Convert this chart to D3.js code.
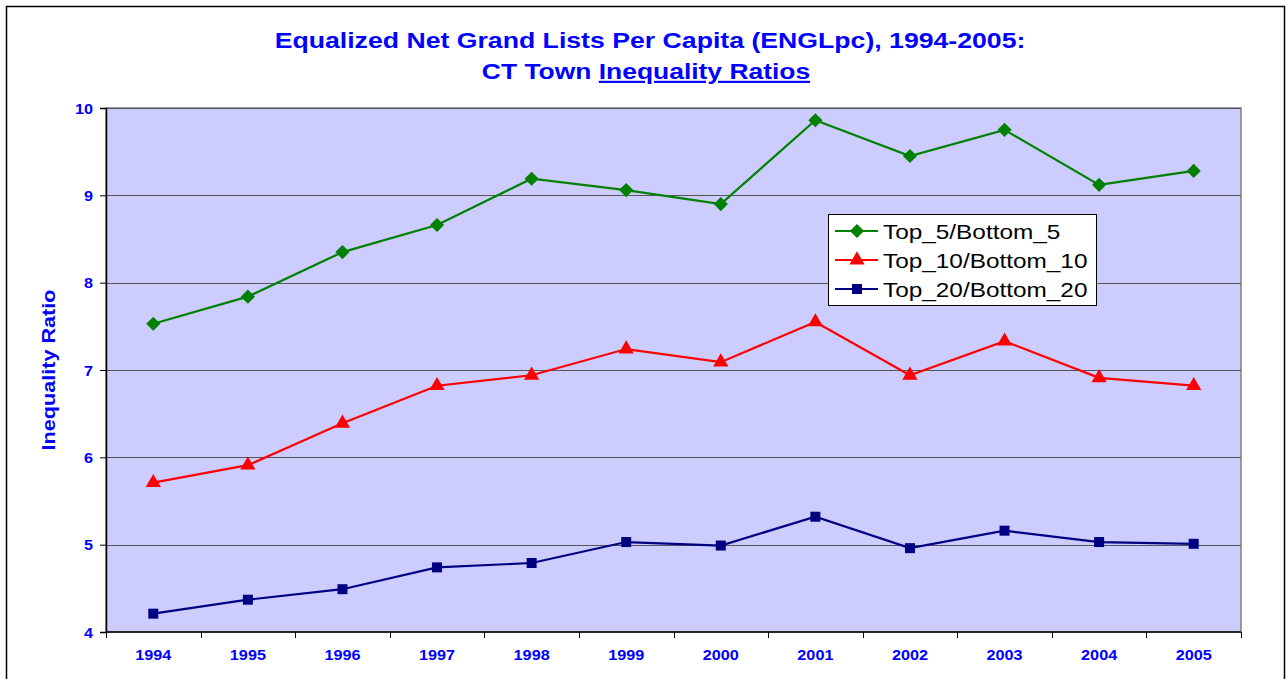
<!DOCTYPE html>
<html>
<head>
<meta charset="utf-8">
<script src="https://cdn.jsdelivr.net/npm/d3@7/dist/d3.min.js"></script>
<style>
  body { margin: 0; background: #fff; }
  svg { display: block; font-family: Arial, "Liberation Sans", sans-serif; }
</style>
</head>
<body>
<div id="chart"></div>
<script>
// Chart data
const years = ["1994", "1995", "1996", "1997", "1998", "1999", "2000", "2001", "2002", "2003", "2004", "2005"];
const top5 = [7.53, 7.84, 8.35, 8.66, 9.19, 9.06, 8.90, 9.86, 9.45, 9.75, 9.12, 9.28];
const top10 = [5.71, 5.91, 6.39, 6.82, 6.94, 7.24, 7.09, 7.55, 6.94, 7.33, 6.91, 6.82];
const top20 = [4.21, 4.37, 4.49, 4.74, 4.79, 5.03, 4.99, 5.32, 4.96, 5.16, 5.03, 5.01];
const yTicks = [4, 5, 6, 7, 8, 9, 10];

// square turned 45 degrees, like the Excel diamond
const diamond = {
    draw(ctx, size) {
        const r = Math.sqrt(size / 2);
        ctx.moveTo(0, -r); ctx.lineTo(r, 0); ctx.lineTo(0, r); ctx.lineTo(-r, 0); ctx.closePath();
    }
};

const series = [
    { name: "Top_5/Bottom_5", values: top5, color: "#008000", symbol: diamond, size: 100 },
    { name: "Top_10/Bottom_10", values: top10, color: "#FF0000", symbol: d3.symbolTriangle, size: 100 },
    { name: "Top_20/Bottom_20", values: top20, color: "#000080", symbol: d3.symbolSquare, size: 100 }
];

const width = 1287, height = 679;
const margin = { top: 108, left: 106, right: 46, bottom: 47 };
const innerW = width - margin.left - margin.right;
const innerH = height - margin.top - margin.bottom;

const svg = d3.select("#chart").append("svg")
    .attr("width", width)
    .attr("height", height);

// Outer chart border
svg.append("rect")
    .attr("x", 6.5).attr("y", 6.5)
    .attr("width", 1278).attr("height", 700)
    .attr("fill", "none")
    .attr("stroke", "#000")
    .attr("stroke-width", 1.5);

// Title (the original is stretched sideways)
svg.append("text")
    .attr("transform", "translate(650,48) scale(1.24,1)")
    .attr("text-anchor", "middle")
    .attr("fill", "#0000FF")
    .style("font-size", "21.5px")
    .style("font-weight", "bold")
    .text("Equalized Net Grand Lists Per Capita (ENGLpc), 1994-2005:");
const t2 = svg.append("text")
    .attr("transform", "translate(646,79) scale(1.23,1)")
    .attr("text-anchor", "middle")
    .attr("fill", "#0000FF")
    .style("font-size", "21.5px")
    .style("font-weight", "bold");
t2.append("tspan").text("CT Town ");
t2.append("tspan").style("text-decoration", "underline").text("Inequality Ratios");

const g = svg.append("g")
    .attr("transform", "translate(" + margin.left + "," + margin.top + ")");

const x = d3.scaleBand().domain(years).range([0, innerW]);
const y = d3.scaleLinear().domain([4, 10]).range([innerH, 0]);

// Plot background
g.append("rect")
    .attr("width", innerW).attr("height", innerH)
    .attr("fill", "#CCCCFF")
    .attr("stroke", "#808080")
    .attr("stroke-width", 1.5);

// Gridlines
g.append("g").selectAll("line")
    .data(yTicks.slice(1))
    .join("line")
    .attr("x1", 0).attr("x2", innerW)
    .attr("y1", d => Math.round(y(d)) + 0.5)
    .attr("y2", d => Math.round(y(d)) + 0.5)
    .attr("stroke", "#555")
    .attr("stroke-width", 1);

// Y axis
const yAxis = g.append("g")
    .call(d3.axisLeft(y).tickValues(yTicks).tickSize(6).tickPadding(0).tickFormat(() => ""));
yAxis.select(".domain").attr("stroke", "#000").attr("stroke-width", 1.5);
yAxis.selectAll(".tick line").attr("stroke", "#000");
g.append("g").selectAll("text")
    .data(yTicks)
    .join("text")
    .attr("transform", d => "translate(-13," + (y(d) + 5.5) + ") scale(1.08,1)")
    .attr("text-anchor", "end")
    .attr("fill", "#0000FF")
    .style("font-size", "15px")
    .style("font-weight", "bold")
    .text(d => d);

// X axis with ticks at band edges
const xAxisG = g.append("g").attr("transform", "translate(0," + innerH + ")");
xAxisG.append("line")
    .attr("x1", 0).attr("x2", innerW)
    .attr("stroke", "#000").attr("stroke-width", 1.5);
xAxisG.selectAll(".edge")
    .data(years.concat(["end"]))
    .join("line")
    .attr("class", "edge")
    .attr("x1", (d, i) => Math.round(i * x.step()) + 0.5)
    .attr("x2", (d, i) => Math.round(i * x.step()) + 0.5)
    .attr("y1", 0).attr("y2", 6)
    .attr("stroke", "#000");
xAxisG.selectAll("text")
    .data(years)
    .join("text")
    .attr("transform", d => "translate(" + (x(d) + x.bandwidth() / 2) + ",28) scale(1.08,1)")
    .attr("text-anchor", "middle")
    .attr("fill", "#0000FF")
    .style("font-size", "15px")
    .style("font-weight", "bold")
    .text(d => d);

// Y axis title
svg.append("text")
    .attr("transform", "translate(55," + (margin.top + innerH / 2) + ") rotate(-90) scale(1.2,1)")
    .attr("text-anchor", "middle")
    .attr("fill", "#0000FF")
    .style("font-size", "18px")
    .style("font-weight", "bold")
    .text("Inequality Ratio");

// Lines and markers
const line = d3.line()
    .x((d, i) => x(years[i]) + x.bandwidth() / 2)
    .y(d => y(d));

series.forEach(s => {
    g.append("path")
        .datum(s.values)
        .attr("fill", "none")
        .attr("stroke", s.color)
        .attr("stroke-width", 2.2)
        .attr("d", line);
    g.append("g").selectAll("path")
        .data(s.values)
        .join("path")
        .attr("transform", (d, i) => "translate(" + (x(years[i]) + x.bandwidth() / 2) + "," + y(d) + ")")
        .attr("d", d3.symbol().type(s.symbol).size(s.size))
        .attr("fill", s.color);
});

// Legend
const legend = svg.append("g").attr("transform", "translate(828,214)");
legend.append("rect")
    .attr("x", 0.5).attr("y", 0.5)
    .attr("width", 268).attr("height", 91)
    .attr("fill", "#fff")
    .attr("stroke", "#000");
series.forEach((s, i) => {
    const ly = 17 + i * 29;
    const item = legend.append("g").attr("transform", "translate(0," + ly + ")");
    item.append("line")
        .attr("x1", 7).attr("x2", 50)
        .attr("stroke", s.color).attr("stroke-width", 2.2);
    item.append("path")
        .attr("transform", "translate(29,0)")
        .attr("d", d3.symbol().type(s.symbol).size(s.size))
        .attr("fill", s.color);
    item.append("text")
        .attr("transform", "translate(55,7.5) scale(1.16,1)")
        .attr("fill", "#000")
        .style("font-size", "21px")
        .text(s.name);
});
</script>
</body>
</html>
